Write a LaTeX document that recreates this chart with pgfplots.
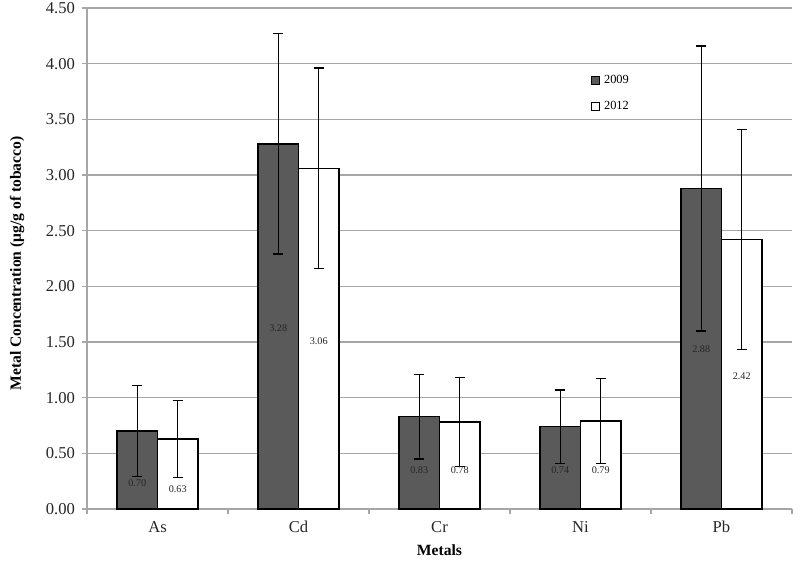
\documentclass[border=0pt]{standalone}
\usepackage{fontspec}
\setmainfont{Liberation Serif}
\usepackage{pgfplots}
\usepackage{pgfplotstable}
\pgfplotsset{compat=1.18}
\definecolor{dk}{HTML}{5A5A5A}
\definecolor{gridc}{HTML}{A6A6A6}
\pgfplotstableread{
x y err
0 0.70 0.41
1 3.28 0.99
2 0.83 0.38
3 0.74 0.33
4 2.88 1.28
}\dataA
\pgfplotstableread{
x y err
0 0.63 0.345
1 3.06 0.90
2 0.78 0.40
3 0.79 0.38
4 2.42 0.99
}\dataB
\begin{document}
\begin{tikzpicture}
\useasboundingbox (0,0) rectangle (400pt,281.5pt);
\begin{axis}[
  at={(43.5pt,27pt)}, anchor=south west,
  scale only axis, width=352.5pt, height=250.5pt,
  xmin=-0.5, xmax=4.5, ymin=0, ymax=4.5,
  axis x line*=bottom, axis y line*=left,
  axis line style={gridc, line width=0.7pt, -},
  ytick={0,0.5,...,4.5},
  ymajorgrids, major grid style={gridc, line width=0.7pt},
  tick align=outside, major tick length=2.5pt,
  tick style={gridc, line width=0.7pt},
  yticklabel style={/pgf/number format/.cd, fixed, fixed zerofill, precision=2, assume math mode=true},
  ticklabel style={font=\fontsize{8.3}{9}\selectfont, text=black!85},
  xtick={-0.5,0.5,...,4.5}, xticklabels={},
  extra x ticks={0,1,2,3,4},
  extra x tick labels={As,Cd,Cr,Ni,Pb},
  extra x tick style={tick style={draw=none}, grid=none},
  xlabel={\textbf{Metals}},
  xlabel style={font=\fontsize{7.8}{9}\selectfont, at={(axis description cs:0.5,0)}, anchor=center, yshift=-20.5pt},
  ylabel={\textbf{Metal Concentration (μg/g of tobacco)}},
  ylabel style={font=\fontsize{7.8}{9}\selectfont, at={([xshift=-35pt]axis description cs:0,0.49)}, anchor=center},
  ybar=0pt, bar width=0.287,
  legend style={at={(axis description cs:0.715,0.875)}, anchor=north west, draw=none, fill=none,
    font=\fontsize{6.2}{7}\selectfont, row sep=3.5pt, inner sep=0pt},
  legend cell align=left,
  legend image code/.code={\draw[#1, line width=0.5pt] (0pt,-1.8pt) rectangle (3.8pt,2pt);},
]
\addplot[draw=black, fill=dk, line width=0.75pt, bar shift=-0.1435,
  error bars/.cd, y dir=both, y explicit,
  error bar style={black, line width=0.7pt},
  error mark options={rotate=90, mark size=2.5pt, black, line width=0.7pt}]
  table[x=x, y=y, y error=err] {\dataA};
\addlegendentry{2009}
\addplot[draw=black, fill=white, line width=0.75pt, bar shift=0.1435,
  error bars/.cd, y dir=both, y explicit,
  error bar style={black, line width=0.7pt},
  error mark options={rotate=90, mark size=2.5pt, black, line width=0.7pt}]
  table[x=x, y=y, y error=err] {\dataB};
\addlegendentry{2012}
\begin{scope}[every node/.style={font=\fontsize{5.1}{6}\selectfont, text=black!85}]
\node at (axis cs:-0.1435,0.23) {0.70};
\node at (axis cs:0.1435,0.18) {0.63};
\node at (axis cs:0.8565,1.62) {3.28};
\node at (axis cs:1.1435,1.51) {3.06};
\node at (axis cs:1.8565,0.35) {0.83};
\node at (axis cs:2.1435,0.35) {0.78};
\node at (axis cs:2.8565,0.35) {0.74};
\node at (axis cs:3.1435,0.35) {0.79};
\node at (axis cs:3.8565,1.44) {2.88};
\node at (axis cs:4.1435,1.19) {2.42};
\end{scope}
\end{axis}
\end{tikzpicture}
\end{document}
